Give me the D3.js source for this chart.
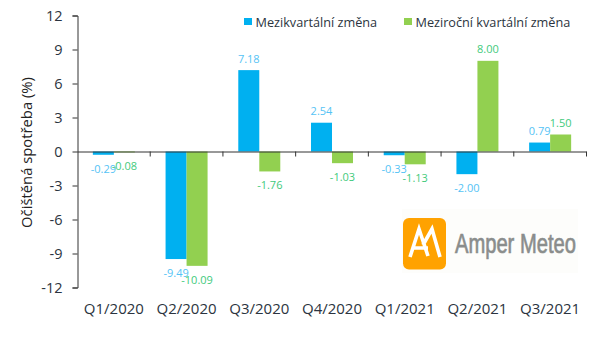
<!DOCTYPE html>
<html>
<head>
<meta charset="utf-8">
<script src="https://cdnjs.cloudflare.com/ajax/libs/d3/7.8.5/d3.min.js"></script>
<style>
  html, body { margin: 0; padding: 0; background: #fff; }
  svg { display: block; font-family: "Open Sans", sans-serif; }
</style>
</head>
<body>
<svg id="chart"></svg>
<script>
const categories = ['Q1/2020', 'Q2/2020', 'Q3/2020', 'Q4/2020', 'Q1/2021', 'Q2/2021', 'Q3/2021'];
const qoq = [-0.29, -9.49, 7.18, 2.54, -0.33, -2.00, 0.79];
const yoy = [-0.08, -10.09, -1.76, -1.03, -1.13, 8.00, 1.50];
const yTicks = [12, 9, 6, 3, 0, -3, -6, -9, -12];
const seriesNames = ['Mezikvartální změna', 'Meziroční kvartální změna'];

const width = 600;
const height = 359;
const textColor = '#2b3440';

const svg = d3.select('#chart').attr('width', width).attr('height', height);

const x = d3.scaleBand().domain(categories).range([77.5, 586.5]);
const y = d3.scaleLinear().domain([-12, 12]).range([287.5, 15.5]);
const barWidth = 21;

const series = [
  { name: seriesNames[0], values: qoq, fill: '#00b0f0', label: '#55c3f5', offset: -barWidth },
  { name: seriesNames[1], values: yoy, fill: '#92d050', label: '#3fca7c', offset: 0 }
];

// bars and their value labels
series.forEach(s => {
  const g = svg.append('g');
  const cx = i => x(categories[i]) + x.bandwidth() / 2 + s.offset;

  g.selectAll('rect')
    .data(s.values)
    .enter()
    .append('rect')
    .attr('x', (d, i) => cx(i))
    .attr('y', d => Math.min(y(d), y(0)))
    .attr('width', barWidth)
    .attr('height', d => Math.abs(y(d) - y(0)))
    .attr('fill', s.fill);

  g.selectAll('text')
    .data(s.values)
    .enter()
    .append('text')
    .attr('x', (d, i) => cx(i) + barWidth / 2)
    .attr('y', d => d < 0 ? y(d) + 18 : y(d) - 7.5)
    .attr('text-anchor', 'middle')
    .attr('font-size', 11)
    .attr('fill', s.label)
    .text(d => d.toFixed(2));
});

// y axis
const yAxis = d3.axisLeft(y).tickValues(yTicks).tickSize(5).tickPadding(10).tickFormat(d => String(d));
const yG = svg.append('g').attr('transform', 'translate(77.5,0)').call(yAxis);
yG.selectAll('text').attr('font-size', 14.5).attr('font-family', '"Open Sans", sans-serif').attr('fill', textColor);
yG.selectAll('line, path').attr('stroke', '#333');

// x axis sits on zero, labels go below the plot
const xAxis = d3.axisBottom(x).tickValues([]).tickSize(0);
const xG = svg.append('g').attr('transform', `translate(0,${y(0)})`).call(xAxis);
xG.select('path').attr('stroke', '#333').attr('d', `M77.5,0.5H586.5`);

const tickEdges = categories.map(c => x(c) + x.bandwidth());
svg.append('g').selectAll('line')
  .data(tickEdges)
  .enter()
  .append('line')
  .attr('x1', d => d).attr('x2', d => d)
  .attr('y1', y(0)).attr('y2', y(0) + 5)
  .attr('stroke', '#333');

svg.append('g').selectAll('text')
  .data(categories)
  .enter()
  .append('text')
  .attr('x', d => x(d) + x.bandwidth() / 2)
  .attr('y', 314)
  .attr('text-anchor', 'middle')
  .attr('font-size', 15)
  .attr('fill', textColor)
  .text(d => d);

// y title
svg.append('text')
  .attr('transform', `translate(32,152.5) rotate(-90)`)
  .attr('text-anchor', 'middle')
  .attr('font-size', 14.8)
  .attr('fill', '#222')
  .text('Očištěná spotřeba (%)');

// legend
const legendX = [244, 404];
series.forEach((s, i) => {
  svg.append('rect')
    .attr('x', legendX[i]).attr('y', 18)
    .attr('width', 8).attr('height', 7)
    .attr('fill', s.fill);
  svg.append('text')
    .attr('x', legendX[i] + 11.5).attr('y', 26.5)
    .attr('font-size', 12.7)
    .attr('fill', textColor)
    .text(s.name);
});

// logo
const logo = svg.append('g');
logo.append('rect').attr('x', 402).attr('y', 209).attr('width', 176).attr('height', 64).attr('fill', '#fdfdfb');
logo.append('rect').attr('x', 403).attr('y', 218).attr('width', 43).attr('height', 51.5).attr('rx', 6).attr('fill', '#ffa200');
logo.append('path')
  .attr('d', 'M410,257 L419,229 L428,256 M414,248 H428 M423,245 L432,229 L440,257')
  .attr('fill', 'none')
  .attr('stroke', '#fff')
  .attr('stroke-width', 3.6);
logo.append('text')
  .attr('transform', 'translate(455,253) scale(0.72,1)')
  .attr('font-family', '"Liberation Sans", sans-serif')
  .attr('font-size', 28)
  .attr('stroke', '#8a8d8c')
  .attr('stroke-width', 0.7)
  .attr('fill', '#8a8d8c')
  .text('Amper Meteo');
</script>
</body>
</html>
